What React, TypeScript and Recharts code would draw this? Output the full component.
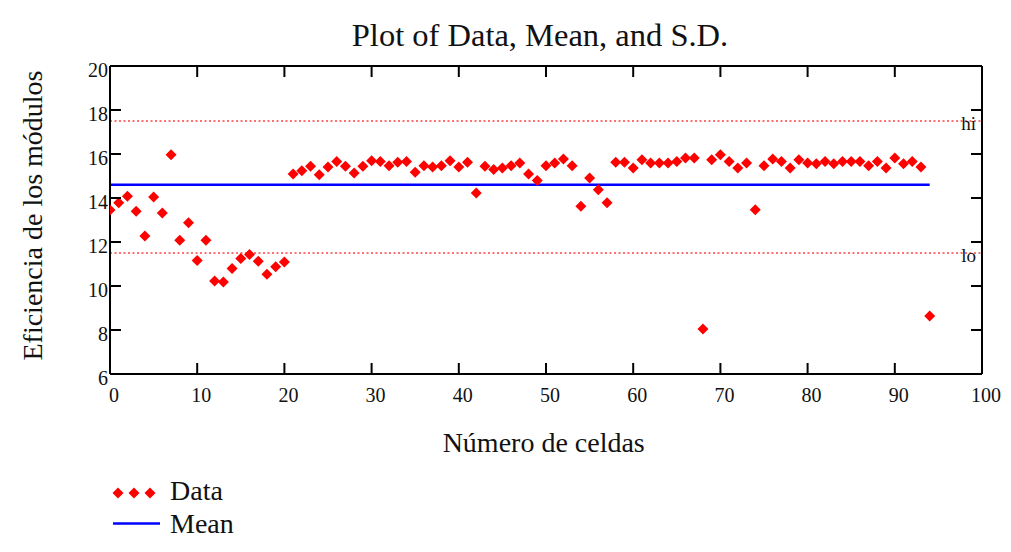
import React from 'react';
import { ComposedChart, Scatter, Line, XAxis, YAxis, ReferenceLine } from 'recharts';

// Efficiency of each cell (index = cell number)
const efficiency = [
  13.45, 13.78, 14.08, 13.4, 12.27, 14.05, 13.32, 15.97, 12.08, 12.87,
  11.16, 12.08, 10.23, 10.18, 10.79, 11.25, 11.43, 11.13, 10.53, 10.88,
  11.09, 15.09, 15.24, 15.44, 15.06, 15.41, 15.66, 15.44, 15.14, 15.44,
  15.69, 15.66, 15.47, 15.62, 15.66, 15.17, 15.47, 15.41, 15.47, 15.69,
  15.41, 15.62, 14.23, 15.44, 15.29, 15.36, 15.47, 15.59, 15.09, 14.8,
  15.47, 15.59, 15.77, 15.47, 13.63, 14.91, 14.38, 13.78, 15.62, 15.62,
  15.36, 15.74, 15.59, 15.59, 15.59, 15.66, 15.82, 15.82, 8.04, 15.74,
  15.97, 15.66, 15.36, 15.59, 13.47, 15.47, 15.77, 15.66, 15.36, 15.74,
  15.59, 15.56, 15.66, 15.56, 15.66, 15.66, 15.66, 15.47, 15.66, 15.36,
  15.82, 15.56, 15.66, 15.41, 8.64,
];
const cellNumbers = efficiency.map((_, i) => i);
const meanValue = 14.6;
const hiValue = 17.5;
const loValue = 11.5;
const xTicks = [0, 10, 20, 30, 40, 50, 60, 70, 80, 90, 100];
const yTicks = [6, 8, 10, 12, 14, 16, 18, 20];

const titleText = 'Plot of Data, Mean, and S.D.';
const xLabelText = 'Número de celdas';
const yLabelText = 'Eficiencia de los módulos';
const dataName = 'Data';
const meanName = 'Mean';

const dataPoints = efficiency.map((v, i) => ({ x: cellNumbers[i], y: v }));
const meanPoints = [
  { x: cellNumbers[0], y: meanValue },
  { x: cellNumbers[cellNumbers.length - 1], y: meanValue },
];

const FONT = '"Liberation Serif", "Times New Roman", serif';
const RED = '#ff0000';
const BLUE = '#0000ff';
const DOT = '#ff7070';
const INK = '#111';
const TICK_LEN = 11;
const BOTTOM_MARGIN = 9;
const LEFT_MARGIN = 2;

const Diamond = (props: any) => {
  const { cx, cy } = props;
  if (cx == null || cy == null) return null;
  const r = 5.5;
  return (
    <polygon
      points={`${cx},${cy - r} ${cx + r},${cy} ${cx},${cy + r} ${cx - r},${cy}`}
      fill={RED}
    />
  );
};

// Bottom axis tick: inward tick line + label below
const BottomTick = (props: any) => {
  const { x, y, payload } = props;
  const axisY = y - TICK_LEN - BOTTOM_MARGIN;
  return (
    <g>
      <line x1={x} x2={x} y1={axisY} y2={axisY - TICK_LEN} stroke="#000" strokeWidth={2} />
      <text x={x + 4} y={axisY + 28} textAnchor="middle" fontFamily={FONT} fontSize={20} fill={INK}>
        {payload.value}
      </text>
    </g>
  );
};

const LeftTick = (props: any) => {
  const { x, y, payload } = props;
  const axisX = x + TICK_LEN + LEFT_MARGIN;
  return (
    <g>
      <line x1={axisX} x2={axisX + TICK_LEN} y1={y} y2={y} stroke="#000" strokeWidth={2} />
      <text x={axisX - 2} y={y + 11} textAnchor="end" fontFamily={FONT} fontSize={20} fill={INK}>
        {payload.value}
      </text>
    </g>
  );
};

const TopTick = (props: any) => {
  const { x, y } = props;
  const axisY = y + TICK_LEN;
  return <line x1={x} x2={x} y1={axisY} y2={axisY + TICK_LEN} stroke="#000" strokeWidth={2} />;
};

const RightTick = (props: any) => {
  const { x, y } = props;
  const axisX = x - TICK_LEN;
  return <line x1={axisX} x2={axisX - TICK_LEN} y1={y} y2={y} stroke="#000" strokeWidth={2} />;
};

const W = 995;
const H = 536;

export default function App() {
  const lineStyle = { stroke: '#000', strokeWidth: 2 };
  return (
    <div style={{ position: 'relative', width: W, height: H }}>
      <ComposedChart
        width={W}
        height={H}
        margin={{ top: 57, right: 20, bottom: 140, left: 42 }}
      >
        <XAxis
          xAxisId={0}
          type="number"
          dataKey="x"
          domain={[0, 100]}
          ticks={xTicks}
          allowDataOverflow
          height={30}
          tickSize={TICK_LEN}
          tickMargin={BOTTOM_MARGIN}
          tick={BottomTick}
          tickLine={false}
          axisLine={lineStyle}
        />
        <XAxis
          xAxisId="top"
          orientation="top"
          type="number"
          dataKey="x"
          domain={[0, 100]}
          ticks={xTicks}
          allowDataOverflow
          height={1}
          tickSize={TICK_LEN}
          tickMargin={0}
          tick={TopTick}
          tickLine={false}
          axisLine={lineStyle}
        />
        <YAxis
          yAxisId={0}
          type="number"
          domain={[6, 20]}
          ticks={yTicks}
          allowDataOverflow
          width={60}
          tickSize={TICK_LEN}
          tickMargin={LEFT_MARGIN}
          tick={LeftTick}
          tickLine={false}
          axisLine={lineStyle}
        />
        <YAxis
          yAxisId="right"
          orientation="right"
          type="number"
          domain={[6, 20]}
          ticks={yTicks}
          allowDataOverflow
          width={1}
          tickSize={TICK_LEN}
          tickMargin={0}
          tick={RightTick}
          tickLine={false}
          axisLine={lineStyle}
        />
        <ReferenceLine
          y={hiValue}
          stroke={DOT}
          strokeWidth={2}
          strokeDasharray="2 2.5"
          label={{ value: 'hi', position: 'insideRight', offset: 6, fontSize: 19, fontFamily: FONT, fill: INK, dy: 2.5 }}
        />
        <ReferenceLine
          y={loValue}
          stroke={DOT}
          strokeWidth={2}
          strokeDasharray="2 2.5"
          label={{ value: 'lo', position: 'insideRight', offset: 6, fontSize: 19, fontFamily: FONT, fill: INK, dy: 2.5 }}
        />
        <Line
          name={meanName}
          data={meanPoints}
          dataKey="y"
          type="linear"
          stroke={BLUE}
          strokeWidth={2.5}
          dot={false}
          activeDot={false}
          isAnimationActive={false}
        />
        <Scatter
          name={dataName}
          data={dataPoints}
          dataKey="y"
          fill={RED}
          shape={Diamond}
          isAnimationActive={false}
        />
      </ComposedChart>
      <svg
        width={W}
        height={H}
        style={{ position: 'absolute', left: 0, top: 0, pointerEvents: 'none' }}
      >
        <text x={532} y={38} textAnchor="middle" fontFamily={FONT} fontSize={32.5} fill={INK}>
          {titleText}
        </text>
        <text x={535.7} y={443.7} textAnchor="middle" fontFamily={FONT} fontSize={28} fill={INK}>
          {xLabelText}
        </text>
        <text
          x={34}
          y={207.5}
          textAnchor="middle"
          fontFamily={FONT}
          fontSize={28}
          fill={INK}
          transform="rotate(-90 34 207.5)"
        >
          {yLabelText}
        </text>
        {[110, 126, 142].map((cx) => (
          <Diamond key={cx} cx={cx} cy={485} />
        ))}
        <text x={162} y={492} fontFamily={FONT} fontSize={28} fill={INK}>
          {dataName}
        </text>
        <line x1={105} x2={152} y1={515.5} y2={515.5} stroke={BLUE} strokeWidth={2.5} />
        <text x={162} y={525} fontFamily={FONT} fontSize={28} fill={INK}>
          {meanName}
        </text>
      </svg>
    </div>
  );
}
